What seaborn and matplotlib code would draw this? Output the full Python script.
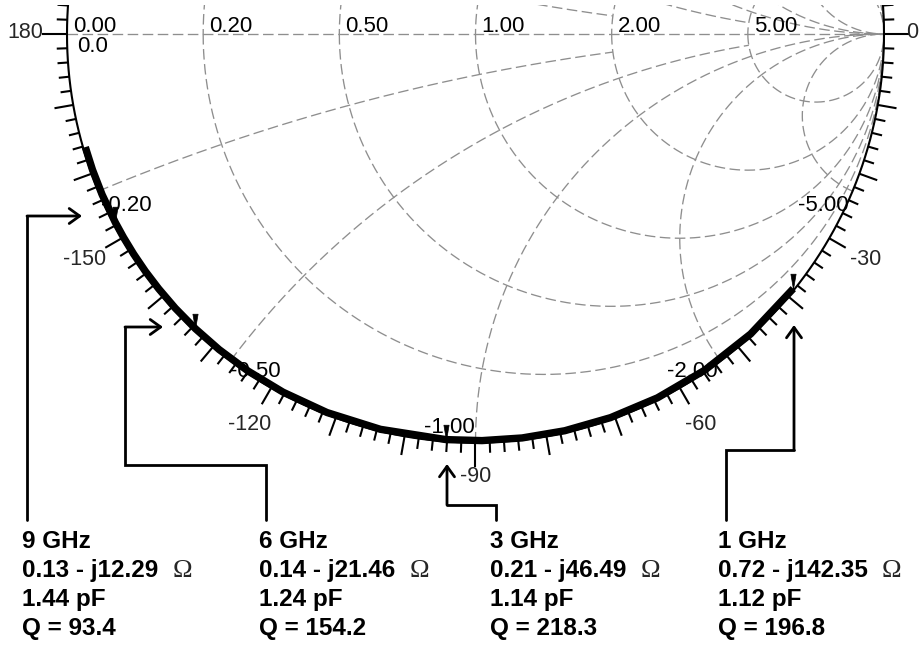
import numpy as np
import pandas as pd
import matplotlib
matplotlib.use("Agg")
import matplotlib.pyplot as plt
from matplotlib.path import Path
from matplotlib.collections import LineCollection
import seaborn as sns

# ---------------------------------------------------------------------------
# Data
# ---------------------------------------------------------------------------
# swept impedance of the chip capacitor, 1-12 GHz (ohms)
freq_ghz = [1.0, 1.25, 1.5, 1.75, 2.0, 2.25, 2.5, 2.75, 3.0, 3.5, 4.0, 4.5,
            5.0, 5.5, 6.0, 6.5, 7.0, 7.5, 8.0, 8.5, 9.0, 10.0, 11.0, 12.0]
trace_r_ohm = [0.72, 0.55, 0.45, 0.38, 0.33, 0.29, 0.26, 0.23, 0.21, 0.19,
               0.17, 0.16, 0.15, 0.145, 0.14, 0.135, 0.135, 0.13, 0.13, 0.13,
               0.13, 0.13, 0.135, 0.14]
trace_x_ohm = [-142.35, -113.7, -94.6, -80.9, -70.6, -62.5, -56.1, -50.8,
               -46.49, -39.4, -34.1, -29.9, -26.6, -23.8, -21.46, -19.4,
               -17.6, -16.1, -14.7, -13.4, -12.29, -10.3, -8.6, -7.1]

# marked frequencies and their readouts
mark_freq_ghz = [9, 6, 3, 1]
mark_r_ohm = [0.13, 0.14, 0.21, 0.72]
mark_x_ohm = [-12.29, -21.46, -46.49, -142.35]
mark_cap_pf = [1.44, 1.24, 1.14, 1.12]
mark_q = [93.4, 154.2, 218.3, 196.8]

z0 = 50.0

# Smith chart grid
resistance_circles = [0.2, 0.5, 1.0, 2.0, 5.0]
reactance_arcs = [0.2, 0.5, 1.0, 2.0, 5.0]
reactance_stop_r = {0.2: 2.0, 0.5: 5.0}      # these arcs end on a resistance circle
angle_labels = [180, -150, -120, -90, -60, -30, 0]

# ---------------------------------------------------------------------------
# Layout helpers (pixel positions -> reflection-coefficient plane)
# ---------------------------------------------------------------------------
W, H = 919, 645
CX, CY, RP = 475.5, 34.0, 408.5


def px(x, y):
    return (x - CX) / RP, (CY - y) / RP


def gamma(r_ohm, x_ohm):
    z = (np.asarray(r_ohm) + 1j * np.asarray(x_ohm)) / z0
    return (z - 1) / (z + 1)


sns.set_theme(style="white")
plt.rcParams["font.family"] = ["Liberation Sans", "DejaVu Sans"]

fig = plt.figure(figsize=(W / 100, H / 100), dpi=100)
ax = fig.add_axes([0, 0, 1, (H - 5) / H])
ax.axis("off")

# ---------------------------------------------------------------------------
# Grid
# ---------------------------------------------------------------------------
grid_kw = dict(color="#8e8e8e", lw=0.95, ls=(0, (8, 3.4)), zorder=1)
t = np.linspace(-np.pi, np.pi, 1441)
for r in resistance_circles:
    c, rad = r / (1 + r), 1 / (1 + r)
    ax.plot(c + rad * np.cos(t), rad * np.sin(t), **grid_kw)

for xv in reactance_arcs:
    rmax = reactance_stop_r.get(xv)
    tt = np.linspace(0, np.arctan(rmax) if rmax else np.pi / 2 - 1e-3, 800)
    rr = np.tan(tt)
    for sgn in (1, -1):
        g = (rr + 1j * sgn * xv - 1) / (rr + 1j * sgn * xv + 1)
        ax.plot(g.real, g.imag, **grid_kw)

ax.plot([-1, 1], [0, 0], **grid_kw)

# resistance values along the real axis
lab_kw = dict(fontsize=16, color="black", zorder=2)
for r in [0.0] + resistance_circles:
    xc = CX + RP * (r - 1) / (r + 1)
    ax.text(*px(xc + 6, 32), f"{r:.2f}", ha="left", va="baseline", **lab_kw)
ax.text(*px(77, 47), "0.0", ha="left", va="center", **lab_kw)

# negative reactance values at the rim
react_offsets = {0.2: (1.5, -10, "left"), 0.5: (0, -8, "left"),
                 1.0: (-0.5, 11, "right"), 2.0: (-2.5, -8, "right"),
                 5.0: (-3, -10, "right")}
for xv in reactance_arcs:
    g = (1j * -xv - 1) / (1j * -xv + 1)
    dx, dy, ha = react_offsets[xv]
    ax.annotate(f"-{xv:.2f}", xy=(g.real, g.imag), xytext=(dx, dy),
                textcoords="offset points", ha=ha, va="center", **lab_kw)

# ---------------------------------------------------------------------------
# Outer circle with angle scale
# ---------------------------------------------------------------------------
ax.plot(np.cos(t), np.sin(t), color="black", lw=1.5, zorder=3)

segs = []
for a in range(-180, 180, 2):
    if a % 90 == 0:
        L = 25
    elif a % 10 == 0:
        L = 19
    else:
        L = 10.5
    th = np.radians(a)
    r1 = 1 + L / RP
    segs.append([(np.cos(th), np.sin(th)), (r1 * np.cos(th), r1 * np.sin(th))])
ax.add_collection(LineCollection(segs, colors="black", linewidths=1.5, zorder=3))

for a in angle_labels:
    if a == 180:
        ax.text(*px(43.5, 33), "180", ha="right", va="center", fontsize=15.5)
    elif a == 0:
        ax.text(*px(906, 33), "0", ha="left", va="center", fontsize=15.5)
    else:
        rl = (443 if a == -90 else 451) / RP
        th = np.radians(a)
        ax.text(rl * np.cos(th), rl * np.sin(th), f"{a}", ha="center",
                va="center", fontsize=15.5)

# ---------------------------------------------------------------------------
# Measured trace and markers
# ---------------------------------------------------------------------------
g_tr = gamma(trace_r_ohm, trace_x_ohm)
df = pd.DataFrame({"u": g_tr.real, "v": g_tr.imag, "f": freq_ghz})
sns.lineplot(data=df, x="u", y="v", sort=False, estimator=None, color="black",
             lw=5.3, ax=ax, zorder=4, legend=False)
ax.lines[-1].set_solid_capstyle("butt")

wedge = Path([(0, 0), (-0.17, 1), (0.17, 1), (0, 0)],
             [Path.MOVETO, Path.LINETO, Path.LINETO, Path.CLOSEPOLY])
g_mk = gamma(mark_r_ohm, mark_x_ohm)
ax.plot(g_mk.real, g_mk.imag, ls="none", marker=wedge, ms=22, color="black",
        mec="black", mew=0.5, zorder=5)

ax.set_xlim(px(0, 0)[0], px(W, 0)[0])
ax.set_ylim(px(0, H)[1], px(0, 5)[1])

# ---------------------------------------------------------------------------
# Call-outs
# ---------------------------------------------------------------------------
leaders = [
    [(27, 520), (27, 216), (82, 216)],
    [(266, 520), (266, 465), (125, 465), (125, 327), (163, 327)],
    [(496, 520), (496, 505), (447, 505), (447, 464)],
    [(726, 520), (726, 450), (794, 450), (794, 325)],
]
for pts in leaders:
    d = [px(*p) for p in pts]
    xs, ys = zip(*d[:-1])
    ax.plot(xs, ys, color="black", lw=2.0, solid_joinstyle="miter", zorder=5)
    ax.annotate("", xy=d[-1], xytext=d[-2],
                arrowprops=dict(arrowstyle="->,head_length=0.5,head_width=0.36",
                                mutation_scale=15, lw=2.0, color="black",
                                shrinkA=0, shrinkB=0), zorder=5)

text_left = [22, 259, 490, 718]
baselines = [548, 577, 606, 635]
bold = dict(fontsize=17.5, fontweight="bold", color="black", ha="left",
            va="baseline")
for i in range(len(mark_freq_ghz)):
    x0 = text_left[i]
    ax.text(*px(x0, baselines[0]), f"{mark_freq_ghz[i]} GHz", **bold)
    zt = ax.text(*px(x0, baselines[1]),
                 f"{mark_r_ohm[i]:.2f} - j{abs(mark_x_ohm[i]):.2f}", **bold)
    ax.annotate("\u03a9", xy=(1, px(0, baselines[1])[1]), xycoords=(zt, "data"),
                xytext=(10, 0), textcoords="offset points", ha="left",
                va="baseline", fontsize=19,
                family=["Liberation Serif", "DejaVu Serif"])
    ax.text(*px(x0, baselines[2]), f"{mark_cap_pf[i]:.2f} pF", **bold)
    ax.text(*px(x0, baselines[3]), f"Q = {mark_q[i]:.1f}", **bold)

fig.savefig("out.png", dpi=100, facecolor="white")
